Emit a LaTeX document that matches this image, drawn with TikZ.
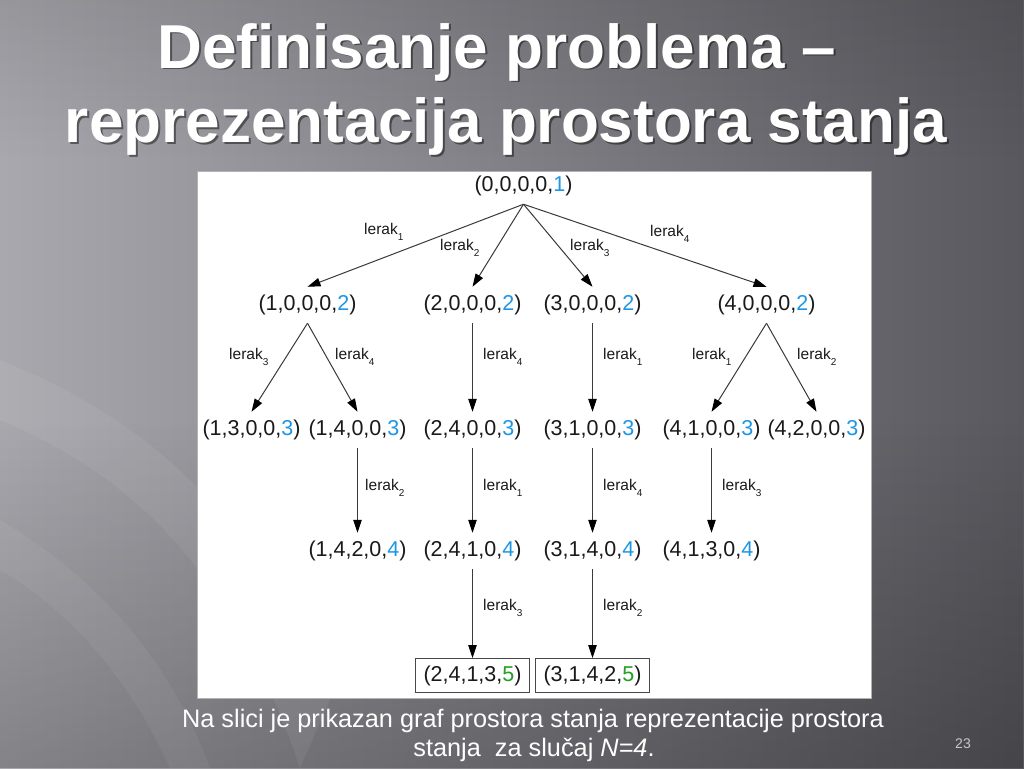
\documentclass[tikz,border=0pt]{standalone}
\usepackage{fontspec}
\setmainfont{Liberation Sans}
\usetikzlibrary{arrows.meta,fadings}
\definecolor{bgL}{HTML}{A9A8AE}
\definecolor{bgM}{HTML}{7D7C82}
\definecolor{bgR}{HTML}{59585E}
\definecolor{sblue}{HTML}{1E96E6}
\definecolor{sgreen}{HTML}{22A022}
\definecolor{ink}{HTML}{1A1A1A}
\definecolor{lnc}{HTML}{3A3A3A}
\definecolor{pgc}{HTML}{C8C8CC}
\tikzset{
 st/.style={inner xsep=0pt, inner ysep=8pt, text=ink, font=\fontsize{21.5}{25}\selectfont},
 goal/.style={draw=ink!80, line width=0.9pt, inner xsep=8pt, inner ysep=7pt, text=ink, font=\fontsize{21.5}{25}\selectfont},
 lbl/.style={anchor=west, inner sep=0pt, text=ink, font=\fontsize{15.5}{18}\selectfont},
 arr/.style={draw=lnc, line width=1pt, -{Triangle[length=13pt,width=8.5pt,color=black]}},
 ttl/.style={font=\fontsize{62}{70}\selectfont\bfseries, anchor=base, inner sep=0pt},
 captxt/.style={font=\fontsize{25.3}{30}\selectfont, anchor=base, inner sep=0pt, text=white},
}
\newcommand{\bl}[1]{\textcolor{sblue}{#1}}
\newcommand{\gr}[1]{\textcolor{sgreen}{#1}}
\newcommand{\lr}[1]{lerak\raisebox{-6pt}{\fontsize{10}{10}\selectfont #1}}
\begin{document}
\begin{tikzpicture}[x=1pt,y=-1pt]
\useasboundingbox (0,0) rectangle (1024,768);
\shade[left color=bgL,middle color=bgM,right color=bgR] (0,0) rectangle (1024,768);
\fill[black, opacity=0.22, path fading=north] (0,420) rectangle (1024,768);
\fill[black, opacity=0.10, path fading=south] (0,0) rectangle (1024,160);
\fill[white, opacity=0.06] (0,360) .. controls (150,420) and (260,520) .. (330,700) -- (300,768) .. controls (230,560) and (120,470) .. (0,420) -- cycle;
\fill[white, opacity=0.05] (0,520) .. controls (100,580) and (170,660) .. (210,768) -- (170,768) .. controls (130,680) and (70,610) .. (0,570) -- cycle;
\fill[white, draw=gray!60] (197,171) rectangle (871,698);
% title
\node[ttl, text=black, opacity=0.45] (t1s) at (499,70) {Definisanje problema –};
\node[ttl, text=white] (t1) at (497,68) {Definisanje problema –};
\node[ttl, text=black, opacity=0.45] (t2s) at (508,144) {reprezentacija prostora stanja};
\node[ttl, text=white] (t2) at (506,142) {reprezentacija prostora stanja};
% states
\node[st] (r) at (523.5,186) {(0,0,0,0,\bl{1})};
\node[st] (a) at (307.5,305) {(1,0,0,0,\bl{2})};
\node[st] (b) at (472.5,305) {(2,0,0,0,\bl{2})};
\node[st] (c) at (592.5,305) {(3,0,0,0,\bl{2})};
\node[st] (d) at (766.5,305) {(4,0,0,0,\bl{2})};
\node[st] (a1) at (251.5,430) {(1,3,0,0,\bl{3})};
\node[st] (a2) at (357.5,430) {(1,4,0,0,\bl{3})};
\node[st] (b1) at (472.5,430) {(2,4,0,0,\bl{3})};
\node[st] (c1) at (592.5,430) {(3,1,0,0,\bl{3})};
\node[st] (d1) at (711.5,430) {(4,1,0,0,\bl{3})};
\node[st] (d2) at (816.5,430) {(4,2,0,0,\bl{3})};
\node[st] (a21) at (357.5,551) {(1,4,2,0,\bl{4})};
\node[st] (b11) at (472.5,551) {(2,4,1,0,\bl{4})};
\node[st] (c11) at (592.5,551) {(3,1,4,0,\bl{4})};
\node[st] (d11) at (711.5,551) {(4,1,3,0,\bl{4})};
\node[goal] (g1) at (472.5,675.5) {(2,4,1,3,\gr{5})};
\node[goal] (g2) at (592.5,675.5) {(3,1,4,2,\gr{5})};
% arrows
\draw[arr] (r.south) -- (a.north);
\draw[arr] (r.south) -- (b.north);
\draw[arr] (r.south) -- (c.north);
\draw[arr] (r.south) -- (d.north);
\draw[arr] (a.south) -- (a1.north);
\draw[arr] (a.south) -- (a2.north);
\draw[arr] (b.south) -- (b1.north);
\draw[arr] (c.south) -- (c1.north);
\draw[arr] (d.south) -- (d1.north);
\draw[arr] (d.south) -- (d2.north);
\draw[arr] (a2.south) -- (a21.north);
\draw[arr] (b1.south) -- (b11.north);
\draw[arr] (c1.south) -- (c11.north);
\draw[arr] (d1.south) -- (d11.north);
\draw[arr] (b11.south) -- (g1.north);
\draw[arr] (c11.south) -- (g2.north);
% labels
\node[lbl] (l01) at (364,232) {\lr{1}};
\node[lbl] (l02) at (440,248) {\lr{2}};
\node[lbl] (l03) at (570,248) {\lr{3}};
\node[lbl] (l04) at (650,234) {\lr{4}};
\node[lbl] (l11) at (229,357) {\lr{3}};
\node[lbl] (l12) at (335,357) {\lr{4}};
\node[lbl] (l13) at (483,357) {\lr{4}};
\node[lbl] (l14) at (603,357) {\lr{1}};
\node[lbl] (l15) at (692,357) {\lr{1}};
\node[lbl] (l16) at (797,357) {\lr{2}};
\node[lbl] (l21) at (365,488) {\lr{2}};
\node[lbl] (l22) at (483,488) {\lr{1}};
\node[lbl] (l23) at (603,488) {\lr{4}};
\node[lbl] (l24) at (722,488) {\lr{3}};
\node[lbl] (l31) at (483,608) {\lr{3}};
\node[lbl] (l32) at (603,608) {\lr{2}};
% caption
\node[captxt] (cap1) at (533,727) {Na slici je prikazan graf prostora stanja reprezentacije prostora};
\node[captxt] (cap2) at (534,756) {stanja\ \ za slučaj \textit{N=4}.};
\node[font=\fontsize{14}{16}\selectfont, text=pgc] (pg) at (963,744) {23};
\end{tikzpicture}
\end{document}
